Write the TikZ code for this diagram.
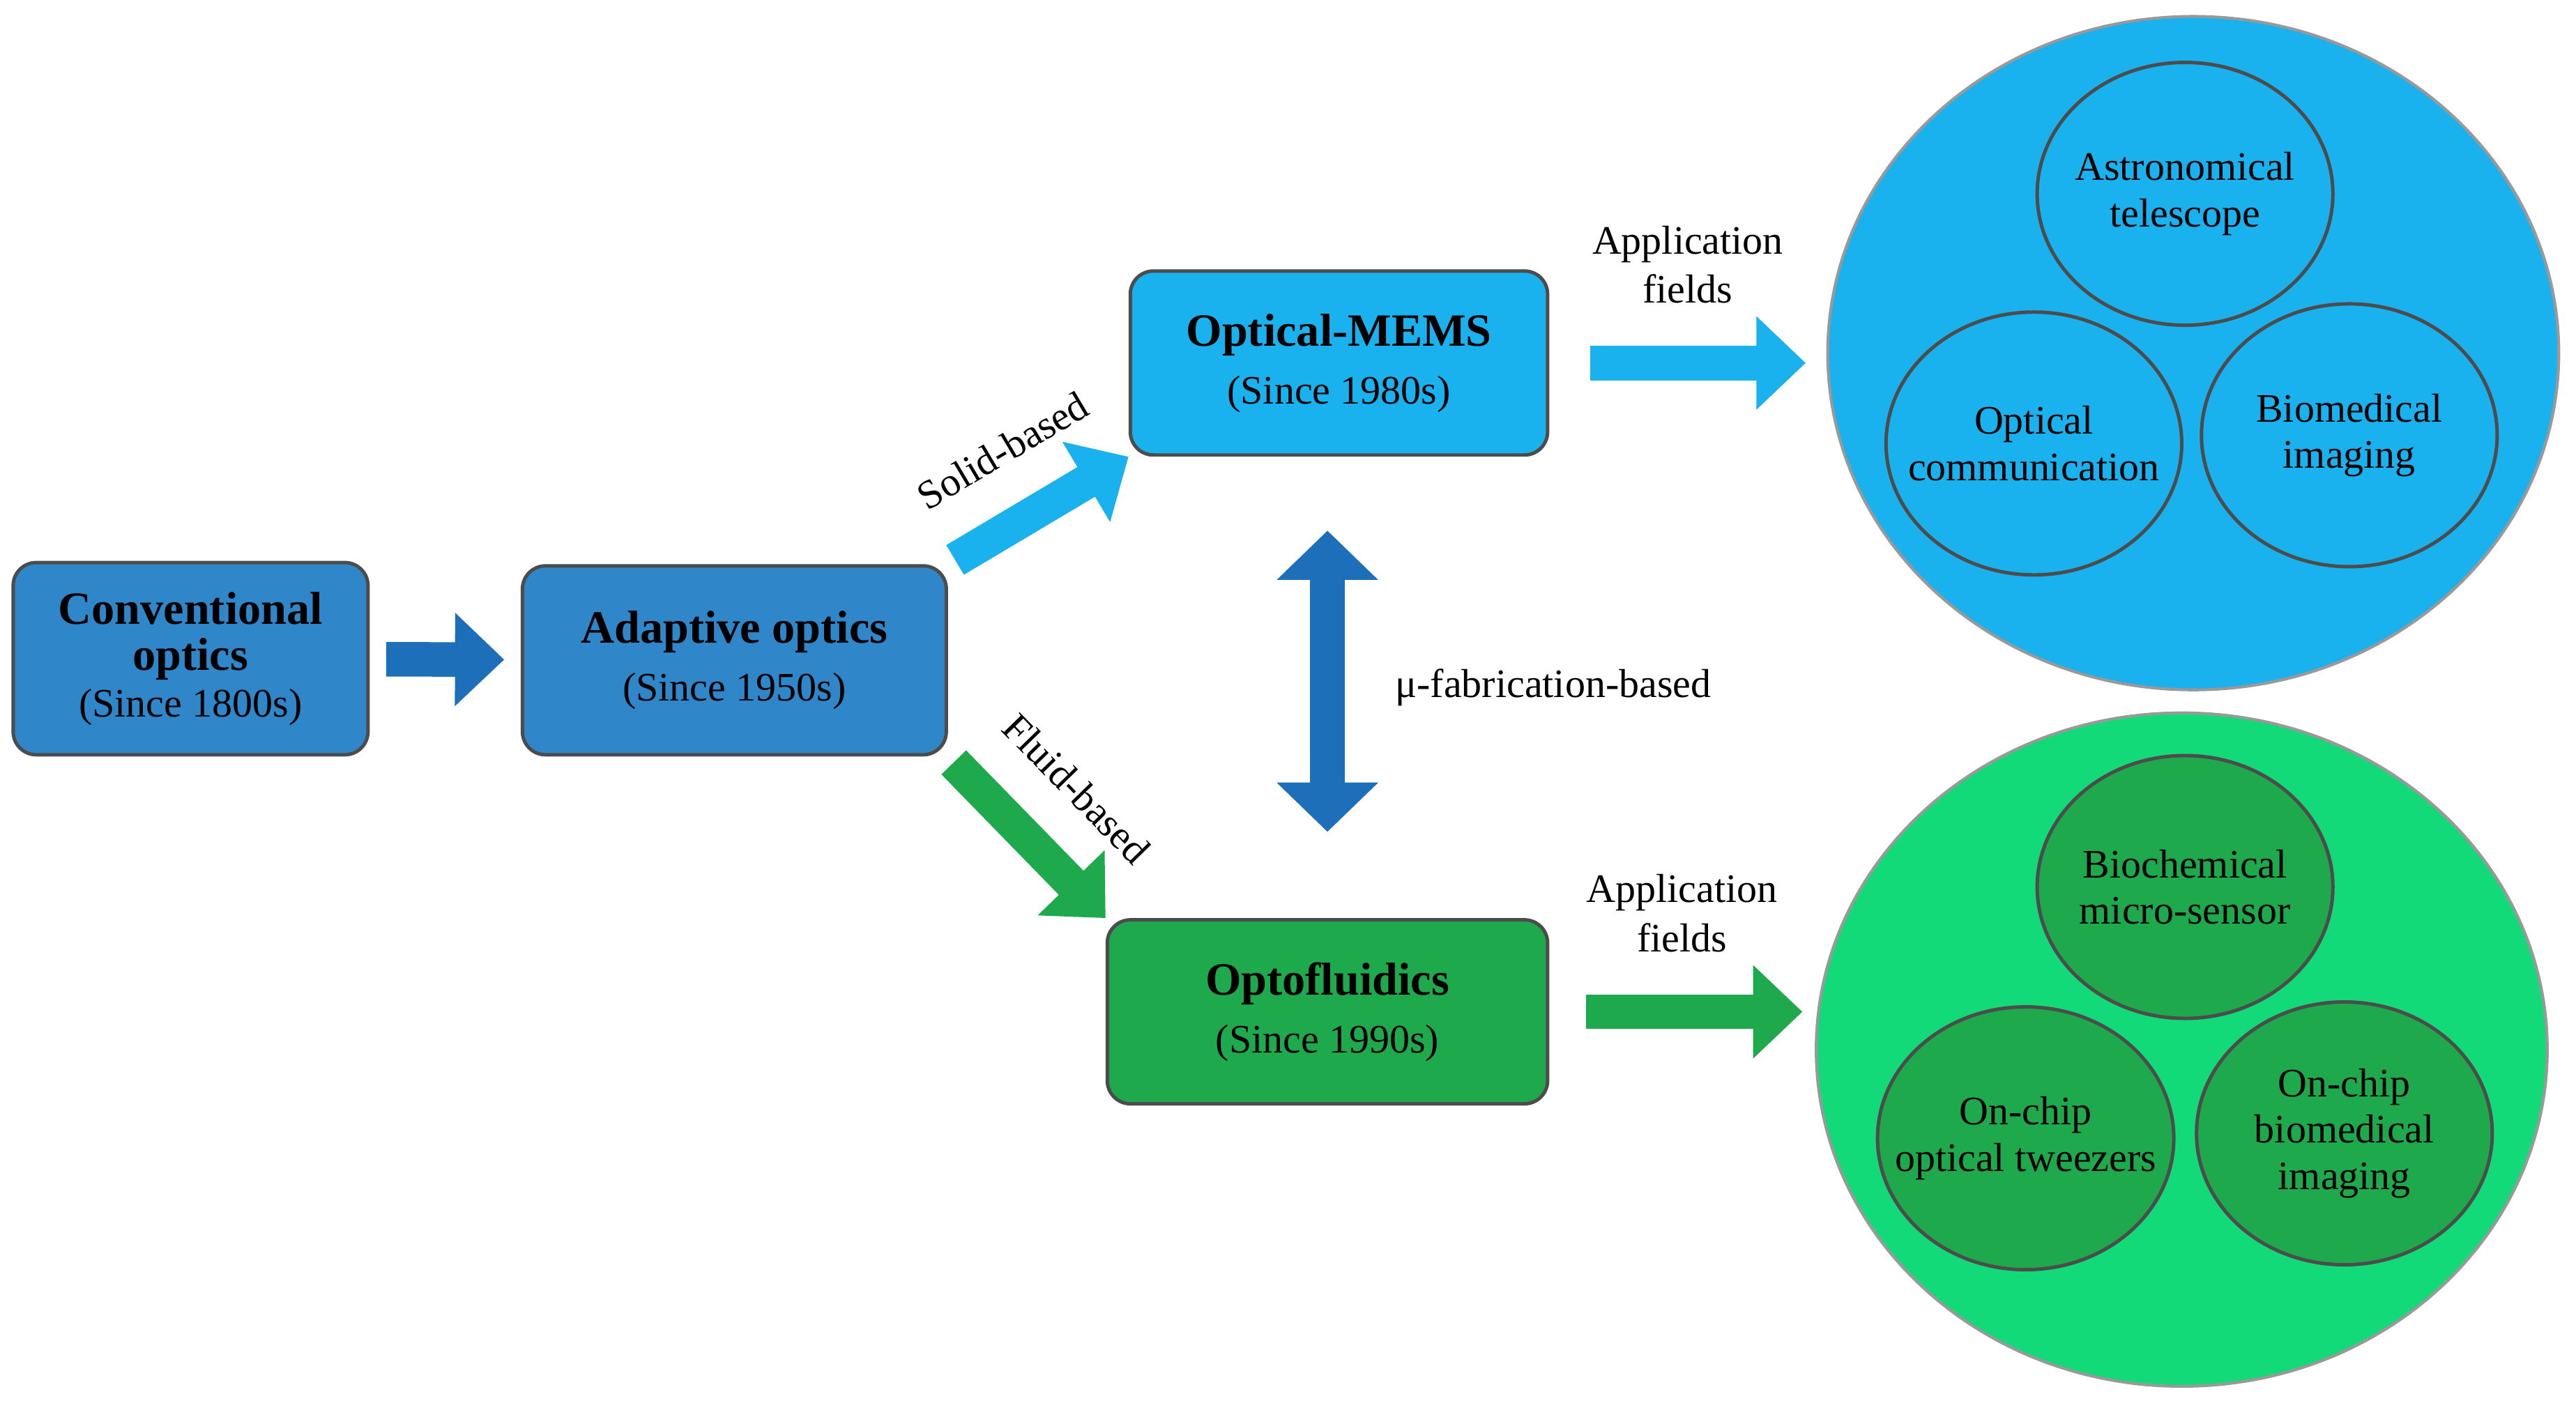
\documentclass[tikz,border=0pt]{standalone}
\usepackage{fontspec}
\setmainfont{Liberation Serif}
\usepackage{xcolor}
\usetikzlibrary{shapes,arrows.meta,positioning,calc}
\definecolor{boxblue}{HTML}{2F86C9}
\definecolor{lightblue}{HTML}{1AB2EE}
\definecolor{optgreen}{HTML}{1EAA4C}
\definecolor{brightgreen}{HTML}{12DA78}
\definecolor{darkblue}{HTML}{1C6FB8}

\begin{document}
\begin{tikzpicture}[
        box/.style={rectangle, draw=black!70, line width=1.2pt, rounded corners=8pt, align=center, font=\fontsize{14}{16}\selectfont},
        field/.style={ellipse, draw=black!40, line width=1pt, minimum width=8.9cm, minimum height=8.2cm},
        app/.style={ellipse, draw=black!70, line width=1.2pt, minimum width=3.6cm, minimum height=3.2cm, align=center, inner sep=-9pt, font=\fontsize{14}{16}\selectfont},
        fat/.style={line width=0.42cm, -{Triangle[length=0.6cm,width=1.1cm]}},
        lbl/.style={font=\fontsize{14}{17}\selectfont, align=center}
      ]
        \useasboundingbox (0,0) rectangle (31.36,17.14);

        % Main boxes
        \node[box, fill=boxblue, minimum width=4.32cm, minimum height=2.34cm] (conv) at (2.32,9.12) {{\fontsize{16}{18}\selectfont\textbf{Conventional}}\\{\fontsize{16}{18}\selectfont\textbf{optics}}\\(Since 1800s)};
        \node[box, fill=boxblue, minimum width=5.16cm, minimum height=2.3cm] (adaptive) at (8.94,9.10) {{\fontsize{16}{18}\selectfont\textbf{Adaptive optics}}\\[4pt](Since 1950s)};
        \node[box, fill=lightblue, minimum width=5.08cm, minimum height=2.24cm] (mems) at (16.3,12.72) {{\fontsize{16}{18}\selectfont\textbf{Optical-MEMS}}\\[4pt](Since 1980s)};
        \node[box, fill=optgreen, minimum width=5.36cm, minimum height=2.24cm] (opto) at (16.16,4.82) {{\fontsize{16}{18}\selectfont\textbf{Optofluidics}}\\[4pt](Since 1990s)};

        % Application fields
        \node[field, fill=lightblue] (blue) at (26.7,12.84) {};
        \node[app, fill=lightblue] (astro) at (26.6,14.78) {Astronomical\\telescope};
        \node[app, fill=lightblue] (comm) at (24.76,11.74) {Optical\\communication};
        \node[app, fill=lightblue] (bioimg) at (28.6,11.84) {Biomedical\\imaging};

        \node[field, fill=brightgreen] (green) at (26.56,4.36) {};
        \node[app, fill=optgreen] (biochem) at (26.6,6.34) {Biochemical\\micro-sensor};
        \node[app, fill=optgreen] (tweezer) at (24.66,3.28) {On-chip\\optical tweezers};
        \node[app, fill=optgreen] (chipimg) at (28.54,3.34) {On-chip\\biomedical\\imaging};

        % Arrows
        \draw[fat, darkblue, shorten <=0.2cm, shorten >=0.2cm] (conv) -- (adaptive);
        \draw[fat, lightblue, shorten <=0.1cm] (adaptive.north east) -- node[lbl, black, sloped, above=0.35cm] {Solid-based} (mems.south west);
        \draw[fat, optgreen, shorten <=0.1cm] (adaptive.south east) -- node[lbl, black, sloped, above=0.35cm] {Fluid-based} (opto.north west);
        \draw[line width=0.42cm, darkblue, {Triangle[length=0.6cm,width=1.2cm]}-{Triangle[length=0.6cm,width=1.2cm]}, shorten <=0.9cm, shorten >=1.05cm] (opto.north |- mems.south) -- node[lbl, black, right=0.5cm] {μ-fabrication-based} (opto.north);
        \draw[fat, lightblue, shorten <=0.5cm, shorten >=0.25cm] (mems.east) -- node[lbl, black, above=0.4cm] {Application\\fields} (mems.east -| blue.west);
        \draw[fat, optgreen, shorten <=0.45cm, shorten >=0.15cm] (opto.east) -- node[lbl, black, above=0.4cm] {Application\\fields} (opto.east -| green.west);
      \end{tikzpicture}
\end{document}
